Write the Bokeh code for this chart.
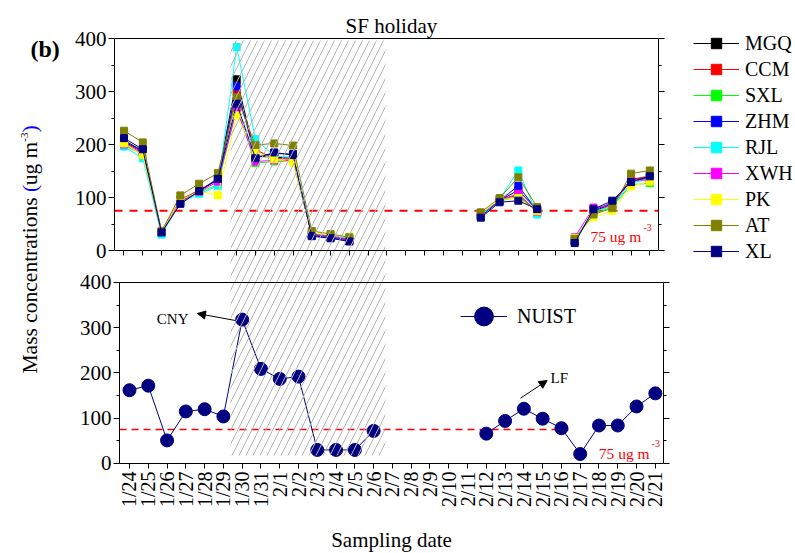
import math

from bokeh.core.properties import value
from bokeh.embed import file_html
from bokeh.models import (Arrow, ColumnDataSource, FixedTicker, Label, Legend,
                          LegendItem, LinearAxis, NormalHead, Range1d)
from bokeh.plotting import figure
from bokeh.resources import INLINE

N = float("nan")

# ---------------- data ----------------
dates = ["1/24", "1/25", "1/26", "1/27", "1/28", "1/29", "1/30", "1/31",
         "2/1", "2/2", "2/3", "2/4", "2/5", "2/6", "2/7", "2/8", "2/9", "2/10",
         "2/11", "2/12", "2/13", "2/14", "2/15", "2/16", "2/17", "2/18", "2/19",
         "2/20", "2/21"]

sites = ["MGQ", "CCM", "SXL", "ZHM", "RJL", "XWH", "PK", "AT", "XL"]
site_colors = ["#000000", "#ff0000", "#00ff00", "#0000ff", "#00ffff",
               "#ff00ff", "#ffff00", "#808000", "#000080"]

mgq = [208, 188, 35, 92, 112, 136, 323, 178, 176, 174, 30, 26, 20, N, N, N, N, N, N,
       66, 94, 114, 76, N, 18, 74, 88, 135, 138]
ccm = [203, 186, 37, 96, 114, 134, 299, 190, 174, 172, 31, 27, 21, N, N, N, N, N, N,
       68, 95, 105, 71, N, 20, 72, 86, 133, 141]
sxl = [198, 182, 34, 93, 110, 124, 270, 165, 168, 168, 32, 28, 22, N, N, N, N, N, N,
       67, 93, 102, 74, N, 19, 70, 82, 124, 127]
zhm = [205, 188, 33, 94, 113, 133, 310, 176, 183, 182, 28, 24, 18, N, N, N, N, N, N,
       64, 94, 122, 75, N, 17, 76, 90, 131, 137]
rjl = [196, 174, 30, 90, 107, 122, 384, 210, 178, 176, 33, 29, 22, N, N, N, N, N, N,
       66, 97, 151, 68, N, 21, 73, 84, 127, 135]
xwh = [200, 184, 35, 92, 111, 130, 267, 168, 170, 170, 30, 27, 21, N, N, N, N, N, N,
       69, 95, 107, 73, N, 25, 81, 85, 134, 132]
pk = [202, 180, 36, 95, 112, 104, 255, 186, 172, 166, 34, 29, 26, N, N, N, N, N, N,
      70, 96, 99, 74, N, 24, 63, 75, 121, 130]
at = [226, 204, 36, 104, 126, 146, 289, 199, 202, 198, 37, 31, 25, N, N, N, N, N, N,
      72, 99, 138, 82, N, 22, 68, 80, 145, 151]
xl = [212, 191, 34, 88, 112, 135, 277, 174, 185, 180, 27, 23, 17, N, N, N, N, N, N,
      62, 91, 94, 78, N, 14, 78, 94, 129, 140]
site_values = [mgq, ccm, sxl, zhm, rjl, xwh, pk, at, xl]

nuist = [162, 172, 51, 115, 120, 104, 318, 209, 187, 192, 30, 30, 30, 72, N, N, N, N, N,
         66, 94, 121, 99, 78, 21, 84, 84, 126, 155]

pm_limit = 75                      # daily PM2.5 standard, ug m-3
y_ticks = [0, 100, 200, 300, 400]
y_minor = [50, 150, 250, 350]

# ---------------- layout ----------------
# One canvas-filling frame holds both panels: the top panel lives on the
# default ranges, the bottom panel on the "bot" ranges.
FONT = "Liberation Serif"
x_idx = list(range(len(dates)))

TOP_X = (-0.506, 28.46)            # top panel's horizontal extent
BOT_X = (-0.532, 28.43)            # bottom panel's horizontal extent
HOLIDAY_X = (5.67, 13.92)          # shaded Spring Festival window (top range)
HOLIDAY_Y = (17.7, 934.8)          # vertical reach of the shading (bot range)
BOT_LIMIT_END = 23.38

p = figure(width=795, height=553, output_backend="svg", toolbar_location=None,
           x_range=Range1d(-6.576, 35.757), y_range=Range1d(-571.7, 471.7),
           x_axis_location=None, y_axis_location=None, min_border=0,
           min_border_left=0, min_border_right=0, min_border_top=0,
           min_border_bottom=0)
p.extra_x_ranges = {"bot": Range1d(-6.869, 35.464)}
p.extra_y_ranges = {"bot": Range1d(-198.9, 1023.2)}
p.outline_line_color = None
p.background_fill_color = "white"
p.border_fill_color = "white"
p.grid.visible = False


def styled_axis(ticks=None, minor=None, labels=True, tick_len=6, **kw):
    ax = LinearAxis(ticker=FixedTicker(ticks=ticks or [], minor_ticks=minor or []), **kw)
    ax.axis_line_color = "black"
    ax.axis_line_width = 1
    ax.major_tick_line_color = "black"
    ax.minor_tick_line_color = "black"
    ax.major_tick_in = 0
    ax.minor_tick_in = 0
    ax.major_tick_out = tick_len if ticks else 0
    ax.minor_tick_out = 3 if minor else 0
    ax.major_label_text_font = FONT
    ax.major_label_text_font_size = "21px"
    ax.major_label_standoff = 2
    ax.major_label_text_color = "black" if labels else None
    return ax


# top panel frame
p.add_layout(styled_axis(y_ticks, y_minor, bounds=(0, 400),
                         fixed_location=TOP_X[0]), "left")
p.add_layout(styled_axis(y_ticks, y_minor, labels=False, bounds=(0, 400),
                         fixed_location=TOP_X[1]), "right")
p.add_layout(styled_axis(labels=False, bounds=TOP_X, fixed_location=400), "above")
p.add_layout(styled_axis(x_idx, labels=False, tick_len=5, bounds=TOP_X,
                         fixed_location=0), "below")

# bottom panel frame
bot = dict(x_range_name="bot", y_range_name="bot")
p.add_layout(styled_axis(y_ticks, y_minor, bounds=(0, 400),
                         fixed_location=BOT_X[0], **bot), "left")
p.add_layout(styled_axis(y_ticks, y_minor, labels=False, bounds=(0, 400),
                         fixed_location=BOT_X[1], **bot), "right")
p.add_layout(styled_axis(labels=False, bounds=BOT_X, fixed_location=400, **bot), "above")
xb = styled_axis(x_idx, tick_len=5, bounds=BOT_X, fixed_location=0, **bot)
xb.major_label_overrides = {i: d for i, d in enumerate(dates)}
xb.major_label_orientation = math.pi / 2
xb.major_label_text_font_size = "20px"
xb.major_label_standoff = 3
xb.axis_label = "Sampling date"
xb.axis_label_text_font = FONT
xb.axis_label_text_font_size = "21px"
xb.axis_label_text_font_style = "normal"
xb.axis_label_text_color = "black"
xb.axis_label_standoff = 18
p.add_layout(xb, "below")

# 75 ug m-3 reference lines
p.line(x=list(TOP_X), y=[pm_limit, pm_limit], line_color="#ff0000", line_width=2,
       line_dash="8 7")
p.line(x=[BOT_X[0], BOT_LIMIT_END], y=[pm_limit, pm_limit], line_color="#ff0000",
       line_width=1.5, line_dash="7 5", **bot)

# top panel: nine sites
legend_items = []
for name, color, vals in zip(sites, site_colors, site_values):
    src = ColumnDataSource(dict(x=x_idx, y=vals))
    ln = p.line("x", "y", source=src, line_color=color, line_width=1)
    mk = p.scatter("x", "y", source=src, marker="square", size=7, fill_color=color,
                   line_color=color)
    legend_items.append(LegendItem(label=name, renderers=[ln, mk]))

# bottom panel: NUIST
nsrc = ColumnDataSource(dict(x=x_idx, y=nuist))
n_line = p.line("x", "y", source=nsrc, line_color="#000080", line_width=1, **bot)
n_mark = p.scatter("x", "y", source=nsrc, marker="circle", size=13,
                   fill_color="#000080", line_color="#000080", **bot)

# holiday shading laid over both panels
p.quad(left=HOLIDAY_X[0], right=HOLIDAY_X[1], bottom=HOLIDAY_Y[0], top=HOLIDAY_Y[1],
       y_range_name="bot", fill_color=None, line_color=None, hatch_pattern="/",
       hatch_color="#b4b4b4", hatch_scale=14, hatch_weight=1)


def put_text(x, y, txt, size, color="black", align="left", on_bot=True):
    rng = bot if on_bot else {}
    p.text(x=[x], y=[y], text=[txt], text_font=value(FONT), text_font_size=value(size),
           text_color=color, text_align=align, text_baseline="alphabetic", **rng)


put_text(24.84, 26.4, "75 ug m", "15.5px", "#ff0000", on_bot=False)
put_text(27.66, 43.4, "-3", "10px", "#ff0000", on_bot=False)
put_text(24.99, 21.4, "75 ug m", "15.5px", "#ff0000")
put_text(27.80, 44.2, "-3", "10px", "#ff0000")
put_text(3.14, 320, "CNY", "15px", align="right")
put_text(22.42, 190, "LF", "15px")

head = dict(size=8, fill_color="black", line_color="black")
p.add_layout(Arrow(end=NormalHead(**head), x_start=5.64, y_start=316, x_end=3.62,
                   y_end=331.5, line_width=1, line_color="black", **bot))
p.add_layout(Arrow(end=NormalHead(**head), x_start=20.82, y_start=144.3, x_end=22.24,
                   y_end=183.4, line_width=1, line_color="black", **bot))

# legends
leg = Legend(items=legend_items, location=(693, 289), orientation="vertical")
leg.glyph_width = 46
leg.glyph_height = 26
leg.label_height = 26
leg.spacing = 0
leg.padding = 0
leg.margin = 0
leg.label_standoff = 6
leg.label_text_font = FONT
leg.label_text_font_size = "20px"
leg.label_text_color = "black"
leg.border_line_color = None
leg.background_fill_alpha = 0
p.add_layout(leg)

leg2 = Legend(items=[LegendItem(label="NUIST", renderers=[n_line, n_mark])],
              location=(460, 213))
leg2.glyph_width = 47
leg2.glyph_height = 48
leg2.label_height = 48
leg2.padding = 0
leg2.margin = 0
leg2.label_standoff = 10
leg2.label_text_font = FONT
leg2.label_text_font_size = "20px"
leg2.label_text_color = "black"
leg2.border_line_color = None
leg2.background_fill_alpha = 0
p.add_layout(leg2)

# title, panel letter and the shared y-axis title (parentheses in blue)
p.add_layout(Label(x=14.24, y=424.5, text="SF holiday", text_font=FONT,
                   text_font_size="21px", text_color="black", text_align="center",
                   text_baseline="alphabetic"))
p.add_layout(Label(x=-4.98, y=381.1, text="(b)", text_font=FONT, text_font_size="24px",
                   text_font_style="bold", text_color="black", text_align="left",
                   text_baseline="alphabetic"))
title_parts = [
    (-5.0, -232.1, "Mass concentrations", "21.5px", "black"),
    (-5.0, 110.4, "(", "21.5px", "#0000ff"),
    (-5.0, 123.0, "ug m", "21.5px", "black"),
    (-5.32, 205.3, "-3", "11px", "black"),
    (-5.0, 222.6, ")", "21.5px", "#0000ff"),
]
for x, y, txt, size, color in title_parts:
    p.add_layout(Label(x=x, y=y, text=txt, angle=math.pi / 2, text_font=FONT,
                       text_font_size=size, text_color=color, text_align="left",
                       text_baseline="alphabetic"))

open("out.html", "w").write(file_html(p, INLINE))
